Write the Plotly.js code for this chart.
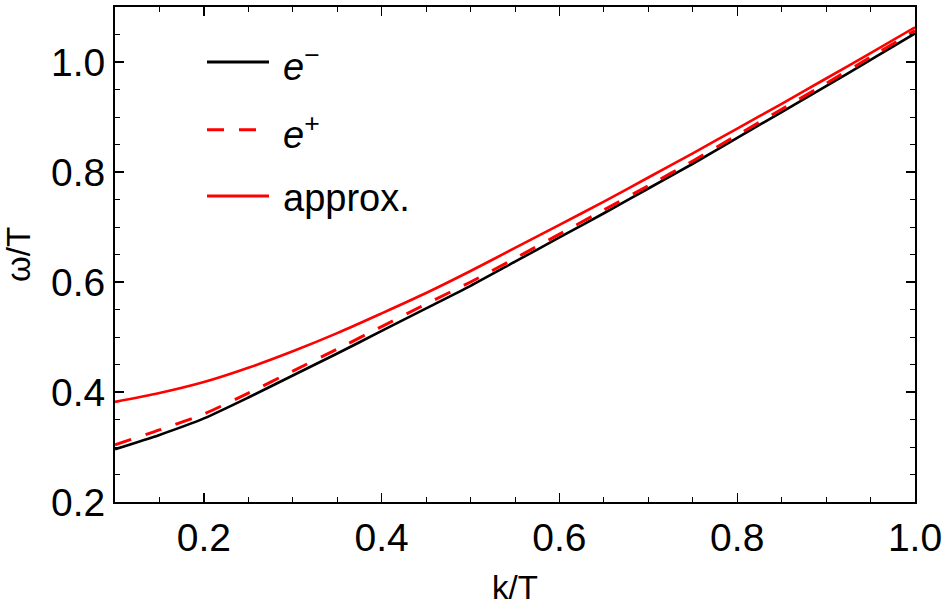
<!DOCTYPE html>
<html>
<head>
<meta charset="utf-8">
<script src="https://cdn.plot.ly/plotly-3.0.1.min.js"></script>
<style>
  html, body { margin: 0; padding: 0; background: #fff; }
  #plot { width: 945px; height: 607px; }
</style>
</head>
<body>
<div id="plot"></div>
<script>
// values
var kT = [0.1, 0.15, 0.2, 0.25, 0.3, 0.35, 0.4, 0.45, 0.5, 0.55, 0.6, 0.65, 0.7, 0.75, 0.8, 0.85, 0.9, 0.95, 1.0];
var eMinus = [0.296, 0.322, 0.352, 0.390, 0.430, 0.470, 0.511, 0.552, 0.593, 0.637, 0.681, 0.725, 0.770, 0.815, 0.862, 0.909, 0.956, 1.004, 1.052];
var ePlus = [0.304, 0.331, 0.360, 0.398, 0.438, 0.478, 0.519, 0.560, 0.600, 0.643, 0.687, 0.731, 0.775, 0.820, 0.867, 0.914, 0.961, 1.009, 1.057];
var approx = [0.382, 0.398, 0.418, 0.444, 0.474, 0.507, 0.543, 0.580, 0.620, 0.662, 0.704, 0.746, 0.790, 0.834, 0.879, 0.924, 0.970, 1.016, 1.063];

var seriesNames = ['<i>e</i><sup>\u2212</sup>', '<i>e</i><sup>+</sup>', 'approx.'];
var seriesColors = ['#000000', '#ff0000', '#ff0000'];
var seriesDash = ['solid', '17px,15px', 'solid'];

var font = 'Liberation Sans, Arial, sans-serif';

var data = [
  {x: kT, y: approx, mode: 'lines', line: {color: seriesColors[2], width: 2.6, dash: seriesDash[2], shape: 'spline', smoothing: 0.8}},
  {x: kT, y: eMinus, mode: 'lines', line: {color: seriesColors[0], width: 2.6, dash: seriesDash[0], shape: 'spline', smoothing: 0.6}},
  {x: kT, y: ePlus, mode: 'lines', line: {color: seriesColors[1], width: 3, dash: seriesDash[1], shape: 'spline', smoothing: 0.6}}
];

// hand-made legend so the line samples are as long as in the original
var legendY = [0.889, 0.752, 0.618];
var shapes = [];
var annotations = [];
for (var i = 0; i < seriesNames.length; i++) {
  shapes.push({
    type: 'line', xref: 'paper', yref: 'paper',
    x0: 0.115, x1: 0.1925, y0: legendY[i], y1: legendY[i],
    line: {color: seriesColors[i], width: 3, dash: seriesDash[i]}
  });
  annotations.push({
    xref: 'paper', yref: 'paper', x: 0.207, y: legendY[i] - 0.004,
    xanchor: 'left', yanchor: 'middle', showarrow: false,
    text: seriesNames[i], font: {family: font, size: 38, color: '#000'}
  });
}

var axisCommon = {
  showgrid: false, zeroline: false,
  showline: true, linecolor: '#000', linewidth: 2, mirror: 'ticks',
  ticks: 'inside', ticklen: 9, tickwidth: 1.3, tickcolor: '#000',
  tickfont: {family: font, size: 39, color: '#000'},
  minor: {ticks: 'inside', ticklen: 5, tickwidth: 1, tickcolor: '#000', dtick: 0.05, showgrid: false}
};

var layout = {
  width: 945, height: 607,
  margin: {l: 115, r: 30, t: 7, b: 105},
  paper_bgcolor: '#fff', plot_bgcolor: '#fff',
  showlegend: false,
  xaxis: Object.assign({}, axisCommon, {
    range: [0.1, 1.0], tick0: 0.2, dtick: 0.2, tickformat: '.1f',
    title: {text: 'k/T', font: {family: font, size: 33, color: '#000'}, standoff: 18}
  }),
  yaxis: Object.assign({}, axisCommon, {
    range: [0.2, 1.1], tick0: 0.2, dtick: 0.2, tickformat: '.1f',
    title: {text: '\u03c9/T', font: {family: font, size: 33, color: '#000'}, standoff: 10}
  }),
  shapes: shapes,
  annotations: annotations
};

Plotly.newPlot('plot', data, layout, {displayModeBar: false, staticPlot: true});
</script>
</body>
</html>
